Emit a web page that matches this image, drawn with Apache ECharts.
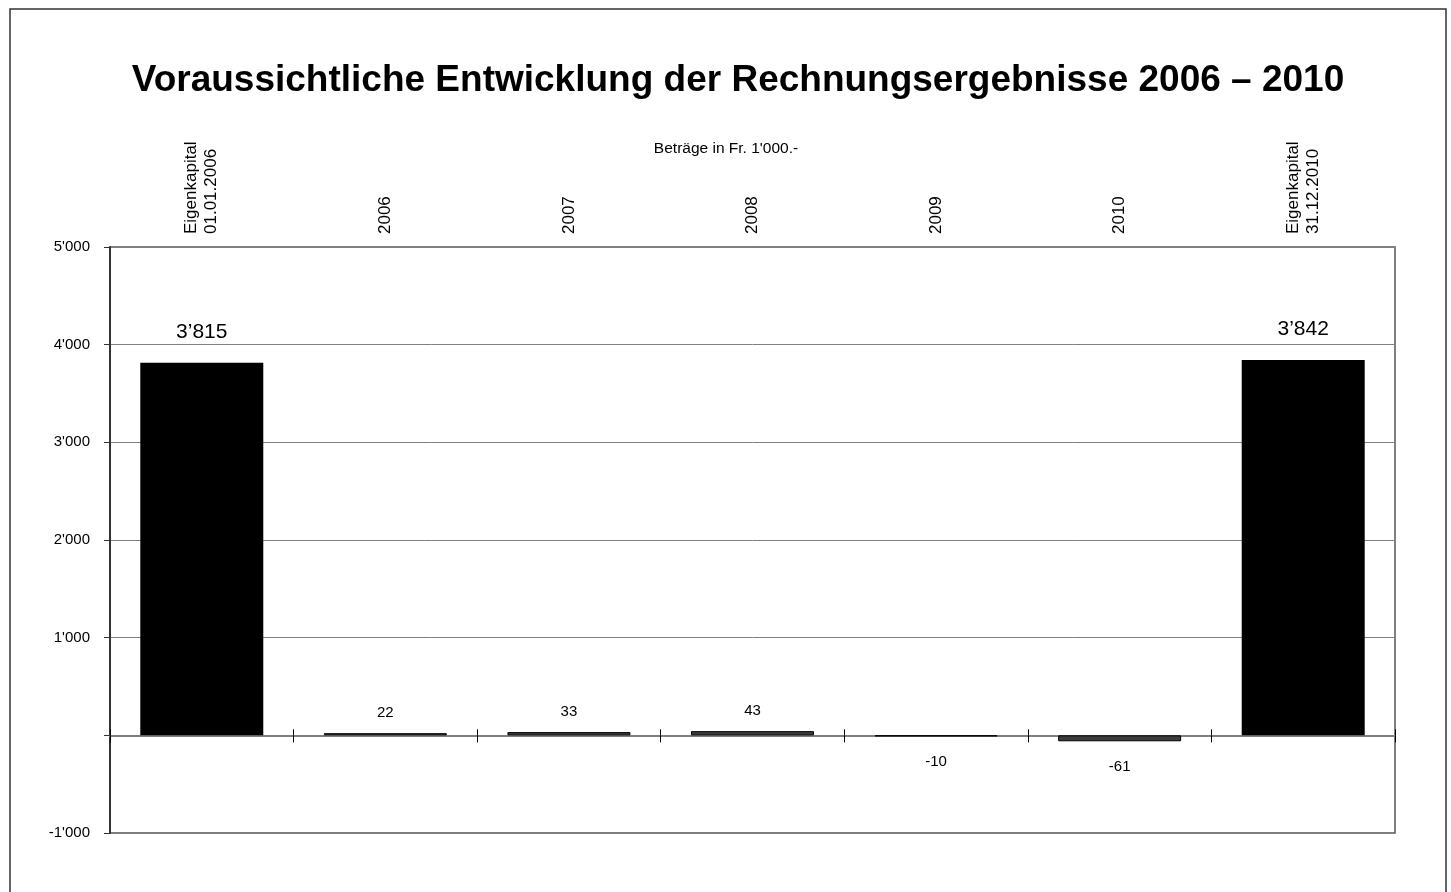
<!DOCTYPE html>
<html>
<head>
<meta charset="utf-8">
<script src="https://cdn.jsdelivr.net/npm/echarts@6/dist/echarts.min.js"></script>
<style>
html,body{margin:0;padding:0;background:#fff;}
#chart{width:1451px;height:892px;}
</style>
</head>
<body>
<div id="chart"></div>
<script>
var categories = ['Eigenkapital\n01.01.2006', '2006', '2007', '2008', '2009', '2010', 'Eigenkapital\n31.12.2010'];
var eigenkapital = [3815, '-', '-', '-', '-', '-', 3842];
var ergebnis = ['-', 22, 33, 43, -10, -61, '-'];
var yMin = -1000, yMax = 5000, yStep = 1000;

var FONT = '"Liberation Sans", Arial, sans-serif';

function fmt(v, sep) {
  var s = String(Math.abs(v)).replace(/\B(?=(\d{3})+(?!\d))/g, sep);
  return (v < 0 ? '-' : '') + s;
}

var ergebnisData = ergebnis.map(function (v) {
  if (v === '-') return '-';
  return {
    value: v,
    label: { position: v >= 0 ? 'top' : 'bottom', distance: v >= 0 ? 13 : 18 }
  };
});

var chart = echarts.init(document.getElementById('chart'), null, { renderer: 'canvas' });
chart.setOption({
  backgroundColor: '#ffffff',
  animation: false,
  graphic: [
    { type: 'rect', shape: { x: 10, y: 9, width: 1436, height: 900 },
      style: { fill: 'none', stroke: '#333', lineWidth: 1.5 }, z: -1 },
    { type: 'text', x: 738, y: 81,
      style: { text: 'Voraussichtliche Entwicklung der Rechnungsergebnisse 2006 – 2010',
        font: 'bold 37px ' + FONT, fill: '#000', textAlign: 'center', textVerticalAlign: 'middle' } },
    { type: 'text', x: 726, y: 149,
      style: { text: "Beträge in Fr. 1'000.-", font: '15.5px ' + FONT, fill: '#000',
        textAlign: 'center', textVerticalAlign: 'middle' } }
  ],
  grid: { left: 110, right: 56, top: 247, bottom: 59, show: true, borderColor: '#555', borderWidth: 1.5, backgroundColor: 'transparent' },
  xAxis: [
    { type: 'category', data: categories, position: 'top',
      axisLine: { show: false }, axisTick: { show: false },
      axisLabel: { rotate: 90, fontSize: 17, lineHeight: 20, fontFamily: FONT, color: '#000', margin: 13, interval: 0 },
      splitLine: { show: false } },
    { type: 'category', data: categories, position: 'bottom', gridIndex: 0,
      axisLine: { show: true, onZero: true, onZeroAxisIndex: 0, lineStyle: { color: '#7f7f7f', width: 2 } },
      axisTick: { show: true, length: 7, lineStyle: { color: '#000', width: 1 } },
      axisLabel: { show: false }, splitLine: { show: false } },
    { type: 'category', data: categories, position: 'bottom', gridIndex: 0,
      axisLine: { show: false, onZero: true, onZeroAxisIndex: 0 },
      axisTick: { show: true, inside: true, length: 6, lineStyle: { color: '#000', width: 1 } },
      axisLabel: { show: false }, splitLine: { show: false } }
  ],
  yAxis: {
    type: 'value', min: yMin, max: yMax, interval: yStep,
    axisLine: { show: true, lineStyle: { color: '#333', width: 2 } },
    axisTick: { show: true, length: 6, lineStyle: { color: '#333' } },
    axisLabel: { fontSize: 15, fontFamily: FONT, color: '#000', margin: 20,
      formatter: function (v) { return v === 0 ? '' : fmt(v, "'"); } },
    splitLine: { show: true, lineStyle: { color: '#808080', width: 1 } }
  },
  series: [
    { name: 'Eigenkapital', type: 'bar', xAxisIndex: 1, data: eigenkapital,
      barWidth: '67%', barGap: '-100%',
      itemStyle: { color: '#000' },
      label: { show: true, position: 'top', distance: 20, fontSize: 21, fontFamily: FONT, color: '#000',
        formatter: function (p) { return fmt(p.value, '’'); } } },
    { name: 'Ergebnis', type: 'bar', xAxisIndex: 1, data: ergebnisData,
      barWidth: '67%', barGap: '-100%',
      itemStyle: { color: '#3c3c3c', borderColor: '#000', borderWidth: 1 },
      label: { show: true, fontSize: 15, fontFamily: FONT, color: '#000',
        formatter: function (p) { return fmt(p.value, "'"); } } }
  ]
});
</script>
</body>
</html>
